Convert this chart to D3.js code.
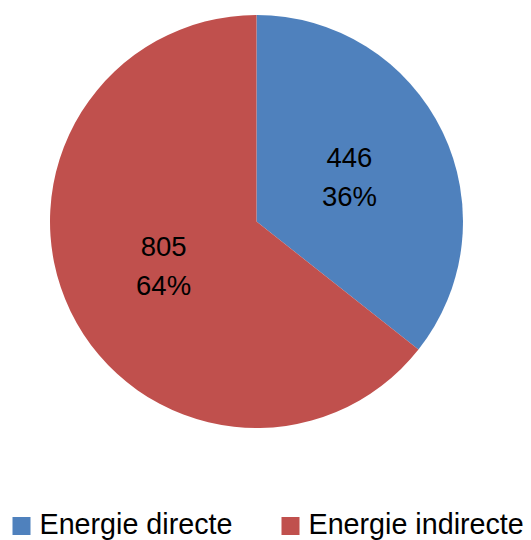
<!DOCTYPE html>
<html>
<head>
<meta charset="utf-8">
<script src="https://cdn.jsdelivr.net/npm/d3@7"></script>
<style>
  html, body { margin: 0; padding: 0; background: #fff; }
  svg { display: block; }
  text { font-family: "Liberation Sans", Arial, sans-serif; fill: #000; }
</style>
</head>
<body>
<svg id="chart" width="531" height="540"></svg>
<script>
// Energy consumption split
const categories = ["Energie directe", "Energie indirecte"];
const values = [446, 805];
const colors = ["#4F81BD", "#C0504D"];

const W = 531, H = 540;
const cx = 256.5, cy = 221.5, radius = 206.5;

const svg = d3.select("#chart");
const total = d3.sum(values);

const pie = d3.pie().sort(null).value(d => d.value);
const arcs = pie(categories.map((c, i) => ({ name: c, value: values[i] })));

const arc = d3.arc().innerRadius(0).outerRadius(radius);

const g = svg.append("g").attr("transform", `translate(${cx},${cy})`);

g.selectAll("path.slice")
  .data(arcs)
  .join("path")
  .attr("class", "slice")
  .attr("d", arc)
  .attr("fill", (d, i) => colors[i]);

const color = d3.scaleOrdinal().domain(categories).range(colors);

// value + percentage labels at slice centroids
const lbl = g.selectAll("g.lbl")
  .data(arcs)
  .join("g")
  .attr("class", "lbl")
  .attr("transform", d => `translate(${arc.centroid(d)})`);

lbl.append("text")
  .attr("text-anchor", "middle")
  .attr("y", -10)
  .attr("font-size", 27.5)
  .text(d => d.data.value);

lbl.append("text")
  .attr("text-anchor", "middle")
  .attr("y", 29)
  .attr("font-size", 27.5)
  .text(d => d3.format(".0%")(d.data.value / total));

// legend
const legendX = [12.5, 281.5];
const legend = svg.selectAll("g.legend")
  .data(categories)
  .join("g")
  .attr("class", "legend")
  .attr("transform", (d, i) => `translate(${legendX[i]},517)`);

legend.append("rect")
  .attr("width", 18).attr("height", 18)
  .attr("fill", d => color(d));

legend.append("text")
  .attr("x", 27)
  .attr("y", 17)
  .attr("font-size", 28.7)
  .text(d => d);
</script>
</body>
</html>
